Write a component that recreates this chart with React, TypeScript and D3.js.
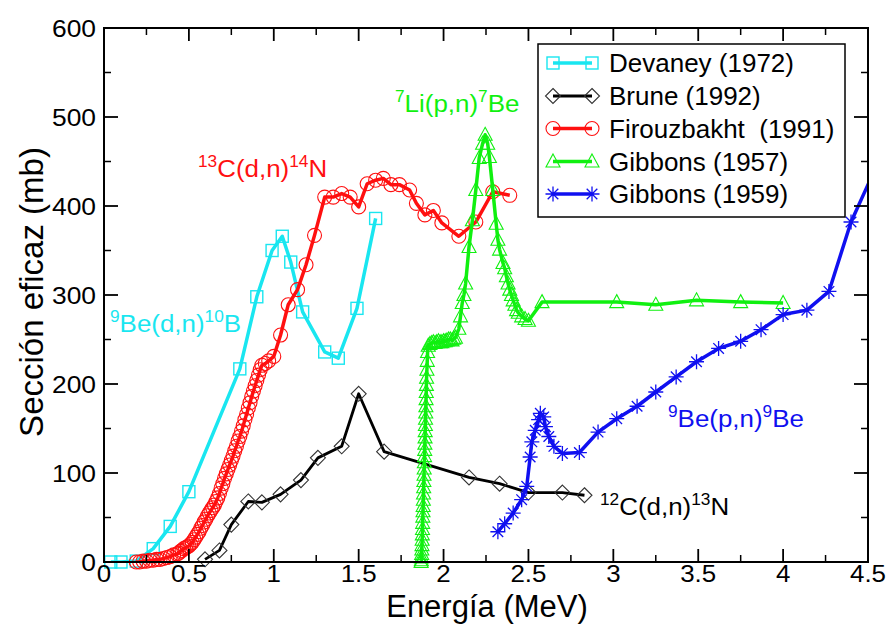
import React from 'react';
import * as d3 from 'd3';

// Devaney (1972) - 9Be(d,n)10B
const devaneyE = [0.04, 0.10, 0.19, 0.29, 0.39, 0.50, 0.80, 0.90, 0.99, 1.05, 1.10, 1.17, 1.30, 1.38, 1.49, 1.60];
const devaneyS = [0, 0, 1, 15, 40, 79, 217, 298, 350, 366, 337, 281, 236, 229, 285, 386];

// Brune (1992) - 12C(d,n)13N
const bruneE = [0.595, 0.68, 0.75, 0.85, 0.93, 1.04, 1.16, 1.26, 1.40, 1.50, 1.65, 2.15, 2.33, 2.50, 2.70, 2.83];
const bruneS = [3, 13, 42, 68, 67, 76, 92, 117, 130, 189, 124, 95, 88, 78, 78, 75];

// Firouzbakht (1991) - 13C(d,n)14N
const firouzE = [
  0.19, 0.21, 0.23, 0.25, 0.27, 0.29, 0.31, 0.33, 0.35, 0.37, 0.39, 0.41, 0.43, 0.44, 0.45, 0.46,
  0.47, 0.48, 0.49, 0.50, 0.51, 0.52, 0.53, 0.54, 0.55, 0.56, 0.57, 0.58, 0.59, 0.60, 0.61, 0.62,
  0.63, 0.64, 0.65, 0.66, 0.67, 0.68, 0.69, 0.70, 0.71, 0.72, 0.73, 0.74, 0.75, 0.76, 0.77, 0.78,
  0.79, 0.80, 0.81, 0.82, 0.83, 0.84, 0.85, 0.86, 0.87, 0.88, 0.89, 0.90, 0.91, 0.92, 0.93, 0.95,
  0.97, 1.00, 1.04, 1.085, 1.14, 1.19, 1.24, 1.30, 1.35, 1.40, 1.45, 1.50, 1.55, 1.60, 1.645, 1.69,
  1.74, 1.80, 1.84, 1.89, 1.94, 1.99, 2.09, 2.19, 2.29, 2.39,
];
const firouzS = [
  0, 0, 1, 1, 2, 2, 3, 3, 4, 5, 6, 8, 9, 10, 12, 13,
  15, 16, 17, 18, 20, 22, 25, 28, 31, 34, 38, 41, 45, 48, 52, 55,
  58, 61, 64, 68, 72, 77, 83, 88, 94, 99, 104, 109, 114, 119, 125, 130,
  136, 141, 147, 153, 160, 166, 173, 179, 186, 192, 198, 204, 210, 216, 221, 223,
  226, 231, 255, 289, 306, 334, 367, 410, 410, 414, 410, 399, 425, 429, 431, 424,
  424, 418, 403, 390, 395, 381, 366, 382, 416, 412,
];

// Gibbons (1957) - 7Li(p,n)7Be
const gib57E = [
  1.868, 1.869, 1.870, 1.871, 1.872, 1.873, 1.874, 1.875, 1.876, 1.877, 1.878, 1.879, 1.880,
  1.881, 1.882, 1.883, 1.884, 1.885, 1.886, 1.887, 1.888, 1.889, 1.890, 1.891, 1.892, 1.893,
  1.894, 1.895, 1.896, 1.897, 1.898, 1.899, 1.900, 1.902, 1.904, 1.906,
  1.91, 1.92, 1.93, 1.94, 1.95, 1.96, 1.97, 1.98, 1.99, 2.00, 2.01, 2.02, 2.03, 2.04, 2.05, 2.06,
  2.07, 2.09, 2.10, 2.11, 2.12, 2.13, 2.15, 2.17, 2.19, 2.21, 2.23, 2.245, 2.26, 2.27,
  2.29, 2.31, 2.32, 2.33, 2.35, 2.36, 2.37, 2.38, 2.39, 2.40, 2.41, 2.42, 2.43, 2.44, 2.46, 2.48,
  2.50, 2.58, 3.02, 3.25, 3.49, 3.75, 4.00,
];
const gib57S = [
  0, 2, 5, 9, 14, 19, 25, 31, 37, 44, 51, 57, 63,
  70, 77, 84, 91, 98, 105, 112, 119, 126, 133, 140, 147, 154,
  161, 168, 175, 183, 191, 199, 207, 216, 226, 236,
  243, 245, 246, 247, 246, 247, 248, 247, 247, 248, 248, 249, 250, 250, 249, 251,
  252, 262, 276, 291, 300, 313, 354, 384, 418, 454, 470, 480, 470, 455,
  418, 380, 362, 351, 336, 330, 321, 313, 306, 300, 294, 289, 283, 280, 276, 273,
  271, 292, 292, 289, 294, 292, 291,
];

// Gibbons (1959) - 9Be(p,n)9B
const gib59E = [
  2.32, 2.36, 2.41, 2.46, 2.49, 2.51, 2.52, 2.54, 2.56, 2.57, 2.59, 2.60, 2.62, 2.65, 2.70,
  2.80, 2.91, 3.02, 3.14, 3.25, 3.37, 3.49, 3.62, 3.75, 3.87, 4.00, 4.14, 4.27, 4.40, 4.55,
];
const gib59S = [
  34, 43, 55, 70, 85, 118, 135, 148, 160, 167, 163, 152, 141, 130, 122,
  123, 146, 161, 175, 191, 208, 225, 240, 248, 261, 278, 283, 304, 382, 445,
];

const xMajor = [0, 0.5, 1, 1.5, 2, 2.5, 3, 3.5, 4, 4.5];
const xMinor = [0.25, 0.75, 1.25, 1.75, 2.25, 2.75, 3.25, 3.75, 4.25];
const yMajor = [0, 100, 200, 300, 400, 500, 600];
const yMinor = [50, 150, 250, 350, 450, 550];

const W = 889;
const H = 625;
const x = d3.scaleLinear().domain([0, 4.5]).range([104, 868]);
const y = d3.scaleLinear().domain([0, 600]).range([562, 28]);

const FONT = 'Liberation Sans, Arial, Helvetica, sans-serif';

type Sym = 'square' | 'diamond' | 'circle' | 'triangle' | 'star';

const series = [
  { name: 'Devaney (1972)', e: devaneyE, s: devaneyS, color: '#19e6f0', sym: 'square' as Sym, lw: 3.5 },
  { name: 'Brune (1992)', e: bruneE, s: bruneS, color: '#000000', sym: 'diamond' as Sym, lw: 2.8 },
  { name: 'Firouzbakht  (1991)', e: firouzE, s: firouzS, color: '#ff1010', sym: 'circle' as Sym, lw: 3.5 },
  { name: 'Gibbons (1957)', e: gib57E, s: gib57S, color: '#10f010', sym: 'triangle' as Sym, lw: 3.5 },
  { name: 'Gibbons (1959)', e: gib59E, s: gib59S, color: '#1010f0', sym: 'star' as Sym, lw: 3.5 },
];

function Marker({ sym, cx, cy, color }: { sym: Sym; cx: number; cy: number; color: string }) {
  if (sym === 'square') {
    return <rect x={cx - 6} y={cy - 6} width={12} height={12} fill="none" stroke={color} strokeWidth={1.4} />;
  }
  if (sym === 'diamond') {
    return (
      <path d={`M${cx},${cy - 7.5}L${cx + 7.5},${cy}L${cx},${cy + 7.5}L${cx - 7.5},${cy}Z`}
        fill="none" stroke="#333" strokeWidth={1.1} />
    );
  }
  if (sym === 'circle') {
    return <circle cx={cx} cy={cy} r={7} fill="none" stroke={color} strokeWidth={1.1} />;
  }
  if (sym === 'triangle') {
    return (
      <path d={`M${cx},${cy - 7.5}L${cx + 7},${cy + 5.5}L${cx - 7},${cy + 5.5}Z`}
        fill="none" stroke={color} strokeWidth={1.1} />
    );
  }
  const r = 7.5;
  const k = r * 0.707;
  return (
    <path d={`M${cx},${cy - r}V${cy + r}M${cx - r},${cy}H${cx + r}M${cx - k},${cy - k}L${cx + k},${cy + k}M${cx - k},${cy + k}L${cx + k},${cy - k}`}
      stroke={color} strokeWidth={1.3} />
  );
}

function Reaction({ tx, ty, color, a, b, c, d }: { tx: number; ty: number; color: string; a: string; b: string; c: string; d: string }) {
  return (
    <g transform={`translate(${tx},${ty}) scale(1.08,1)`}>
      <text x={0} y={0} fill={color} fontSize={24} fontFamily={FONT}>
        <tspan fontSize={16} dy={-10}>{a}</tspan>
        <tspan dy={10}>{b}</tspan>
        <tspan fontSize={16} dy={-10}>{c}</tspan>
        <tspan dy={10}>{d}</tspan>
      </text>
    </g>
  );
}

export default function App() {
  const line = d3.line<number>();
  const legendRows = [63, 96, 128.5, 161.5, 194];

  return (
    <svg width={W} height={H} style={{ position: 'absolute', left: 0, top: 0, background: '#fff' }} fontFamily={FONT}>
      <defs>
        <clipPath id="plot">
          <rect x={104} y={28} width={764} height={534} />
        </clipPath>
      </defs>
      <rect x={0} y={0} width={W} height={H} fill="#fff" />

      {series.map((sr) => {
        const pts = sr.e.map((e, i) => [x(e), y(sr.s[i])] as [number, number]);
        return (
          <g key={sr.name}>
            <path d={d3.line()(pts) || ''} fill="none" stroke={sr.color} strokeWidth={sr.lw}
              strokeLinejoin="round" clipPath="url(#plot)" />
            {pts.filter((p, i) => sr.e[i] <= 4.5).map((p, i) => (
              <Marker key={i} sym={sr.sym} cx={p[0]} cy={p[1]} color={sr.color} />
            ))}
          </g>
        );
      })}

      {/* frame */}
      <rect x={104} y={28} width={764} height={534} fill="none" stroke="#000" strokeWidth={2} />

      {xMajor.map((v) => (
        <g key={'xM' + v}>
          <line x1={x(v)} x2={x(v)} y1={562} y2={549} stroke="#000" strokeWidth={1.8} />
          <line x1={x(v)} x2={x(v)} y1={28} y2={41} stroke="#000" strokeWidth={1.8} />
          <g transform={`translate(${x(v)},582) scale(1.08,1)`}>
            <text x={0} y={0} textAnchor="middle" fontSize={24}>{String(v)}</text>
          </g>
        </g>
      ))}
      {xMinor.map((v) => (
        <g key={'xm' + v}>
          <line x1={x(v)} x2={x(v)} y1={562} y2={555} stroke="#000" strokeWidth={1.5} />
          <line x1={x(v)} x2={x(v)} y1={28} y2={35} stroke="#000" strokeWidth={1.5} />
        </g>
      ))}
      {yMajor.map((v) => (
        <g key={'yM' + v}>
          <line x1={104} x2={118} y1={y(v)} y2={y(v)} stroke="#000" strokeWidth={1.8} />
          <line x1={868} x2={854} y1={y(v)} y2={y(v)} stroke="#000" strokeWidth={1.8} />
          <g transform={`translate(96,${y(v) + 9}) scale(1.1,1)`}>
            <text x={0} y={0} textAnchor="end" fontSize={24}>{String(v)}</text>
          </g>
        </g>
      ))}
      {yMinor.map((v) => (
        <g key={'ym' + v}>
          <line x1={104} x2={111} y1={y(v)} y2={y(v)} stroke="#000" strokeWidth={1.5} />
          <line x1={868} x2={861} y1={y(v)} y2={y(v)} stroke="#000" strokeWidth={1.5} />
        </g>
      ))}

      <text x={487} y={617} textAnchor="middle" fontSize={31}>Energía (MeV)</text>
      <text transform="translate(43,292) rotate(-90)" textAnchor="middle" fontSize={33}>Sección eficaz (mb)</text>

      <Reaction tx={110} ty={332} color="#19e6f0" a="9" b="Be(d,n)" c="10" d="B" />
      <Reaction tx={198} ty={177} color="#ff1010" a="13" b="C(d,n)" c="14" d="N" />
      <Reaction tx={395} ty={112} color="#10f010" a="7" b="Li(p,n)" c="7" d="Be" />
      <Reaction tx={668} ty={427} color="#1010f0" a="9" b="Be(p,n)" c="9" d="Be" />
      <Reaction tx={600} ty={515} color="#000000" a="12" b="C(d,n)" c="13" d="N" />

      {/* legend */}
      <rect x={538} y={44} width={307} height={173} fill="#fff" stroke="#000" strokeWidth={1.5} />
      {series.map((sr, i) => {
        const ry = legendRows[i];
        return (
          <g key={'lg' + i}>
            <path d={line([[553, ry], [592, ry]] as any) || ''} stroke={sr.color} strokeWidth={sr.lw} />
            <Marker sym={sr.sym} cx={553} cy={ry} color={sr.color} />
            <Marker sym={sr.sym} cx={592} cy={ry} color={sr.color} />
            <g transform={`translate(609,${ry + 9}) scale(1.04,1)`}>
              <text x={0} y={0} fontSize={25} style={{ whiteSpace: 'pre' }}>{sr.name}</text>
            </g>
          </g>
        );
      })}
    </svg>
  );
}
